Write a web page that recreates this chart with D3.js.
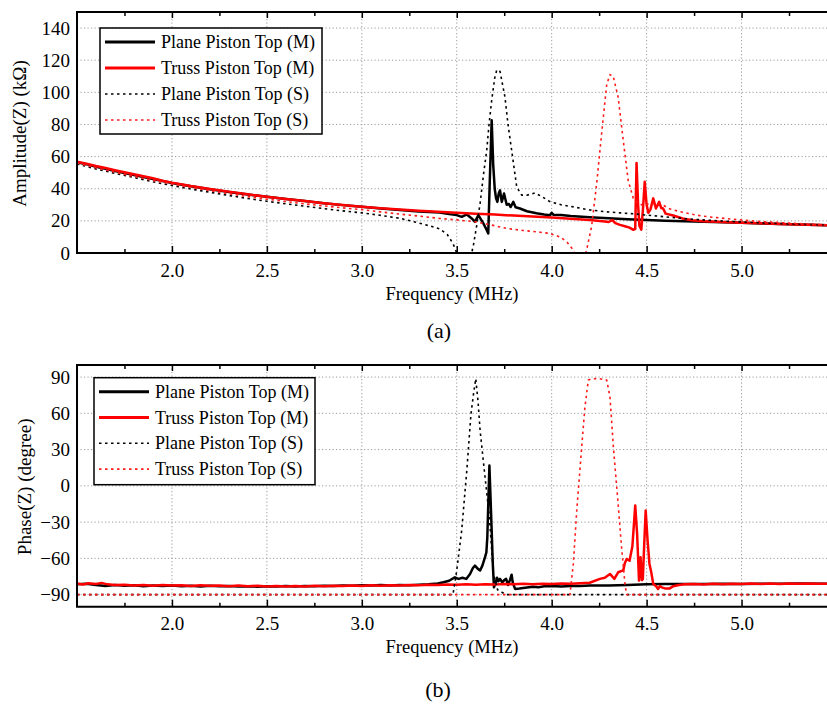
<!DOCTYPE html>
<html>
<head>
<meta charset="utf-8">
<script src="https://cdn.jsdelivr.net/npm/d3@7"></script>
<style>
  html, body { margin: 0; padding: 0; background: #fff; }
  svg { display: block; }
  text { font-family: "Liberation Serif", "Times New Roman", serif; fill: #000; }
</style>
</head>
<body>
<svg id="chart" width="827" height="707"></svg>
<script>
// ---------------- DATA ----------------
const seriesNames = ["Plane Piston Top (M)", "Truss Piston Top (M)", "Plane Piston Top (S)", "Truss Piston Top (S)"];
const freqTicks = [2.0, 2.5, 3.0, 3.5, 4.0, 4.5, 5.0];
const freqMinorTicks = [1.75, 2.25, 2.75, 3.25, 3.75, 4.25, 4.75, 5.25];
const ampTicks = [0, 20, 40, 60, 80, 100, 120, 140];
const phaseTicks = [-90, -60, -30, 0, 30, 60, 90];

// Amplitude |Z| (kOhm) vs frequency (MHz)
const ampPlaneM = [[1.5,56.5],[1.55,55.3],[1.6,53.6],[1.65,52.4],[1.7,51],[1.75,49.8],[1.8,48.5],[1.85,47.3],[1.9,46],[1.95,44.8],[2.0,43.6],[2.1,41.5],[2.2,39.7],[2.3,38],[2.4,36.4],[2.5,35],[2.6,33.6],[2.7,32.3],[2.8,31],[2.9,29.8],[3.0,28.8],[3.1,27.7],[3.2,26.7],[3.3,25.9],[3.41,25.2],[3.46,24.2],[3.5,23.6],[3.526,22.5],[3.553,24],[3.579,21.5],[3.596,19.4],[3.614,23.6],[3.64,18.4],[3.655,15],[3.666,12.2],[3.674,45],[3.684,82.6],[3.692,55],[3.70,40],[3.707,34],[3.714,31.8],[3.721,37],[3.728,39],[3.737,31.8],[3.749,37],[3.763,30],[3.775,30.5],[3.784,28.6],[3.798,31.8],[3.81,28.5],[3.833,27.7],[3.87,26],[3.92,24.8],[3.96,24],[3.99,23.5],[4.0,25],[4.01,23.8],[4.05,23.6],[4.1,23],[4.2,22.3],[4.3,21.7],[4.4,21],[4.5,20.5],[4.6,20.1],[4.7,19.8],[4.8,19.5],[4.9,19.1],[5.0,18.8],[5.1,18.4],[5.2,18.1],[5.3,17.8],[5.45,17.3]];
const ampTrussM = [[1.5,56.8],[1.55,55.6],[1.6,54.1],[1.65,52.9],[1.7,51.5],[1.75,50.2],[1.8,49],[1.85,47.8],[1.9,46.5],[1.95,45],[2.0,43.8],[2.1,41.7],[2.2,39.9],[2.3,38.2],[2.4,36.5],[2.5,35],[2.6,33.6],[2.7,32.3],[2.8,31],[2.9,29.9],[3.0,28.8],[3.1,27.9],[3.2,27],[3.3,26.3],[3.4,25.7],[3.5,25.1],[3.6,24.5],[3.7,23.9],[3.8,23.3],[3.9,22.7],[4.0,22.1],[4.1,21.3],[4.2,20.5],[4.28,19.6],[4.3,19.3],[4.32,20.5],[4.335,18.6],[4.36,17.5],[4.39,16.5],[4.41,15.8],[4.43,14.4],[4.44,15],[4.447,56],[4.455,30],[4.462,17],[4.472,14.5],[4.48,26],[4.49,44.3],[4.5,30],[4.509,25],[4.52,27],[4.535,34],[4.549,27.7],[4.566,31.8],[4.577,28],[4.587,27.7],[4.6,24.5],[4.64,23.3],[4.69,21.5],[4.74,20.4],[4.8,19.8],[4.9,19.3],[5.0,18.9],[5.1,18.5],[5.2,18.1],[5.3,17.8],[5.45,17.3]];
const ampPlaneS = [[1.5,55.5],[1.6,52.3],[1.7,49.6],[1.8,47],[1.9,44.3],[2.0,42],[2.1,39.8],[2.2,37.8],[2.3,35.8],[2.4,33.9],[2.5,32.2],[2.6,30.6],[2.7,29.1],[2.8,27.6],[2.9,26.2],[3.0,25],[3.1,23.4],[3.2,21.6],[3.27,19.6],[3.36,16.8],[3.41,15],[3.45,11.5],[3.48,6],[3.5,0],[3.52,-8],[3.55,-10],[3.575,-2],[3.588,5],[3.605,17],[3.623,30.8],[3.64,48],[3.658,64],[3.67,80],[3.684,95],[3.70,109],[3.711,114],[3.728,113],[3.754,97],[3.77,80],[3.789,64],[3.816,41],[3.842,36],[3.87,36],[3.912,37.4],[3.95,35],[3.99,32],[4.05,30],[4.114,28.7],[4.2,26.8],[4.29,25.6],[4.36,25],[4.43,24.4],[4.5,23.6],[4.6,22.5],[4.7,21.4],[4.8,20.6],[4.9,19.9],[5.0,19.3],[5.1,18.8],[5.2,18.3],[5.3,17.9],[5.45,17.4]];
const ampTrussS = [[1.5,56],[1.6,53],[1.7,50.3],[1.8,47.7],[1.9,45.2],[2.0,43],[2.1,40.8],[2.2,38.8],[2.3,36.9],[2.4,35.1],[2.5,33.5],[2.6,32],[2.7,30.6],[2.8,29.3],[2.9,28.1],[3.0,27],[3.1,25.6],[3.2,24.2],[3.3,23],[3.41,21.5],[3.5,20.6],[3.6,19.4],[3.68,17.5],[3.763,15.3],[3.85,14],[3.92,13.2],[3.99,12.2],[4.044,10],[4.079,7],[4.114,1.9],[4.14,-8],[4.165,-6],[4.184,1.9],[4.21,16.3],[4.237,43.3],[4.263,74.3],[4.29,105],[4.307,111],[4.324,110],[4.35,97],[4.377,70],[4.403,45],[4.43,34],[4.45,31.5],[4.482,29.5],[4.51,30.5],[4.553,30.8],[4.587,29.8],[4.62,27.5],[4.69,25.3],[4.79,23],[4.87,22],[5.0,20.5],[5.1,19.6],[5.22,18.8],[5.35,18],[5.45,17.5]];

// Phase(Z) (degree) vs frequency (MHz)
const phasePlaneM = [[1.5,-81.5],[1.55,-81],[1.6,-82],[1.65,-82.8],[1.7,-82],[1.75,-82.6],[1.8,-82.2],[1.85,-83],[1.9,-82.4],[1.95,-82.8],[2.0,-82.5],[2.05,-83],[2.1,-82.6],[2.15,-83.2],[2.2,-82.7],[2.25,-83.1],[2.3,-82.8],[2.35,-83.3],[2.4,-83],[2.45,-83.4],[2.5,-83.1],[2.55,-83.3],[2.6,-82.9],[2.65,-83.2],[2.7,-82.8],[2.75,-83],[2.8,-82.6],[2.85,-82.9],[2.9,-82.4],[2.95,-82.7],[3.0,-82.2],[3.05,-82.5],[3.1,-82.1],[3.15,-82.4],[3.2,-82],[3.25,-82.2],[3.3,-81.8],[3.35,-81.5],[3.4,-80.8],[3.43,-79.8],[3.46,-78.5],[3.49,-75.6],[3.5,-76.5],[3.51,-77],[3.53,-76],[3.55,-77],[3.57,-73],[3.585,-68],[3.596,-66],[3.61,-68.5],[3.623,-70],[3.635,-66],[3.649,-59],[3.656,-55],[3.661,-42.5],[3.667,-10],[3.672,16.8],[3.678,-10],[3.684,-37],[3.69,-65],[3.696,-84],[3.705,-80],[3.712,-76],[3.719,-79],[3.728,-77],[3.74,-80],[3.75,-78],[3.76,-77],[3.77,-82],[3.78,-78],[3.789,-73.5],[3.795,-80],[3.807,-85.3],[3.83,-85],[3.86,-84.3],[3.9,-83.5],[3.93,-84],[3.96,-83],[4.0,-82.8],[4.05,-83.3],[4.1,-82.8],[4.15,-82.8],[4.2,-82.5],[4.3,-82.4],[4.4,-82],[4.5,-81.5],[4.6,-81.3],[4.7,-81.2],[4.8,-81.2],[4.9,-81],[5.0,-81.2],[5.1,-81],[5.2,-81.1],[5.3,-80.9],[5.45,-81]];
const phaseTrussM = [[1.5,-80.8],[1.53,-81.6],[1.56,-80.6],[1.6,-81.2],[1.63,-80.3],[1.66,-81.5],[1.7,-82],[1.75,-81.8],[1.8,-82.4],[1.85,-82],[1.9,-82.6],[1.95,-82.1],[2.0,-82.5],[2.05,-82.2],[2.1,-82.8],[2.15,-82.3],[2.2,-82.7],[2.25,-82.4],[2.3,-83],[2.35,-82.5],[2.4,-83],[2.45,-82.7],[2.5,-83.2],[2.55,-82.8],[2.6,-83.3],[2.65,-82.9],[2.7,-83.2],[2.75,-82.7],[2.8,-83],[2.85,-82.6],[2.9,-82.9],[2.95,-82.4],[3.0,-82.8],[3.05,-82.3],[3.1,-82.6],[3.15,-82.2],[3.2,-82.5],[3.25,-82.1],[3.3,-82.3],[3.35,-81.9],[3.4,-82.1],[3.45,-81.7],[3.5,-81.9],[3.55,-81.5],[3.6,-81.8],[3.65,-81.4],[3.7,-81.6],[3.75,-81.2],[3.8,-81.5],[3.85,-81.1],[3.9,-81.4],[3.95,-81],[4.0,-81.3],[4.05,-80.9],[4.1,-81.1],[4.15,-80.6],[4.2,-80.2],[4.254,-77],[4.28,-76],[4.307,-72.9],[4.33,-77],[4.35,-71.5],[4.377,-70],[4.385,-64],[4.395,-60.5],[4.41,-62],[4.425,-50],[4.44,-16.3],[4.45,-40],[4.46,-78.4],[4.468,-59],[4.475,-78],[4.48,-77],[4.487,-50],[4.495,-20.4],[4.505,-45],[4.515,-64.6],[4.525,-72],[4.535,-81.2],[4.55,-83],[4.56,-85.3],[4.57,-83],[4.58,-84],[4.6,-85],[4.62,-85],[4.64,-83],[4.67,-82],[4.7,-81.5],[4.75,-81.2],[4.8,-81.6],[4.85,-81],[4.9,-81.4],[4.95,-81],[5.0,-81.3],[5.05,-80.9],[5.1,-81.2],[5.15,-80.8],[5.2,-81.2],[5.25,-80.9],[5.3,-81.1],[5.35,-80.8],[5.4,-81.1],[5.45,-81]];
const phasePlaneS = [[1.5,-90],[3.48,-90],[3.5,-70],[3.526,-37],[3.553,12.7],[3.575,59.6],[3.59,78],[3.60,88.6],[3.612,70],[3.623,45.8],[3.649,7.2],[3.672,-26],[3.693,-72.9],[3.715,-86],[3.737,-88],[3.76,-90],[5.45,-90]];
const phaseTrussS = [[1.5,-90],[4.096,-90],[4.114,-64.6],[4.132,-20.4],[4.158,32],[4.175,65],[4.193,87.5],[4.21,88.6],[4.25,88.8],[4.29,87.5],[4.307,73.5],[4.325,32],[4.35,-15],[4.368,-50.8],[4.386,-81.2],[4.395,-90],[5.45,-90]];

// ---------------- STYLES / LAYOUT ----------------
const styles = [
  { color: "#000000", width: 2.5, dash: null },
  { color: "#ff0000", width: 2.5, dash: null },
  { color: "#000000", width: 1.6, dash: "2.5,3.5" },
  { color: "#ff1a1a", width: 1.6, dash: "2.5,3.5" }
];
const FONT = '"Liberation Serif", "Times New Roman", serif';
const svg = d3.select("#chart");

function drawPanel(cfg) {
  const { top, bottom, left, right, xDomain, yDomain, yTicks, series, yTitle, yTitleX, panelLabel, legend, tickPad, titleOffset } = cfg;
  const x = d3.scaleLinear().domain(xDomain).range([left, right]);
  const y = d3.scaleLinear().domain(yDomain).range([bottom, top]);
  const g = svg.append("g");
  const clipId = "clip" + Math.round(top);
  g.append("clipPath").attr("id", clipId).append("rect")
    .attr("x", left).attr("y", top).attr("width", right - left).attr("height", bottom - top);

  // grid
  const grid = g.append("g").attr("stroke", "#9a9a9a").attr("stroke-width", 1).attr("stroke-dasharray", "1.2,2.3");
  grid.selectAll("line.gx").data(freqTicks).join("line")
    .attr("x1", d => x(d)).attr("x2", d => x(d)).attr("y1", top).attr("y2", bottom);
  grid.selectAll("line.gy").data(yTicks.filter(v => y(v) < bottom - 1)).join("line")
    .attr("x1", left).attr("x2", right).attr("y1", d => y(d)).attr("y2", d => y(d));

  // series lines
  const line = d3.line().x(d => x(d[0])).y(d => y(d[1]));
  const lg = g.append("g").attr("clip-path", `url(#${clipId})`);
  series.forEach((s, i) => {
    lg.append("path").datum(s).attr("d", line).attr("fill", "none")
      .attr("stroke", styles[i].color).attr("stroke-width", styles[i].width)
      .attr("stroke-linejoin", "round")
      .attr("stroke-dasharray", styles[i].dash);
  });

  // bottom axis
  const xAxis = d3.axisBottom(x).tickValues(freqTicks).tickFormat(d3.format(".1f")).tickSizeInner(-7).tickSizeOuter(0).tickPadding(tickPad);
  const ax = g.append("g").attr("transform", `translate(0,${bottom})`).call(xAxis);
  ax.select(".domain").remove();
  ax.selectAll("line").attr("stroke", "#000").attr("stroke-width", 1.5);
  ax.selectAll("text").attr("font-family", FONT).attr("font-size", 19).attr("fill", "#000");
  const axm = g.append("g").attr("transform", `translate(0,${bottom})`)
    .call(d3.axisBottom(x).tickValues(freqMinorTicks).tickFormat("").tickSizeInner(-4).tickSizeOuter(0));
  axm.select(".domain").remove();
  axm.selectAll("line").attr("stroke", "#000").attr("stroke-width", 1.5);
  // top mirror ticks
  const at = g.append("g").attr("transform", `translate(0,${top})`)
    .call(d3.axisTop(x).tickValues(freqTicks).tickFormat("").tickSizeInner(-6).tickSizeOuter(0));
  at.select(".domain").remove();
  at.selectAll("line").attr("stroke", "#000").attr("stroke-width", 1.5);
  const atm = g.append("g").attr("transform", `translate(0,${top})`)
    .call(d3.axisTop(x).tickValues(freqMinorTicks).tickFormat("").tickSizeInner(-4).tickSizeOuter(0));
  atm.select(".domain").remove();
  atm.selectAll("line").attr("stroke", "#000").attr("stroke-width", 1.5);

  // left axis labels
  const yAxis = d3.axisLeft(y).tickValues(yTicks).tickSizeInner(0).tickSizeOuter(0).tickPadding(7);
  const ay = g.append("g").attr("transform", `translate(${left},0)`).call(yAxis);
  ay.select(".domain").remove();
  ay.selectAll("text").attr("font-family", FONT).attr("font-size", 19).attr("fill", "#000");

  // frame
  g.append("path").attr("d", `M${right},${top}H${left}V${bottom}H${right}`)
    .attr("fill", "none").attr("stroke", "#000").attr("stroke-width", 2);

  // titles
  g.append("text").attr("x", (left + right) / 2).attr("y", bottom + titleOffset)
    .attr("text-anchor", "middle").attr("font-size", 18.5).text("Frequency (MHz)");
  g.append("text").attr("transform", `translate(${yTitleX},${(top + bottom) / 2 + 1}) rotate(-90)`)
    .attr("text-anchor", "middle").attr("font-size", 19).text(yTitle);
  g.append("text").attr("x", panelLabel.x).attr("y", panelLabel.y)
    .attr("text-anchor", "middle").attr("font-size", 22).text(panelLabel.text);

  // legend
  const L = legend;
  const leg = g.append("g");
  leg.append("rect").attr("x", L.x).attr("y", L.y).attr("width", L.w).attr("height", L.h)
    .attr("fill", "#fff").attr("stroke", "#000").attr("stroke-width", 1.5);
  seriesNames.forEach((name, i) => {
    const cy = L.y + L.first + i * L.step;
    leg.append("line").attr("x1", L.x + 5).attr("x2", L.x + 55).attr("y1", cy).attr("y2", cy)
      .attr("stroke", styles[i].color).attr("stroke-width", styles[i].width === 2.5 ? 3 : 1.6)
      .attr("stroke-dasharray", styles[i].dash);
    leg.append("text").attr("x", L.x + 61).attr("y", cy + 6).attr("font-size", 18).text(name);
  });
}

drawPanel({
  top: 12, bottom: 253, left: 77, right: 827,
  xDomain: [1.5, 5.45], yDomain: [0, 150], yTicks: ampTicks,
  series: [ampPlaneM, ampTrussM, ampPlaneS, ampTrussS],
  yTitle: "Amplitude(Z) (kΩ)", yTitleX: 26,
  panelLabel: { text: "(a)", x: 439, y: 338 },
  legend: { x: 100, y: 28, w: 222, h: 106, first: 14, step: 26 },
  tickPad: 11, titleOffset: 47
});

drawPanel({
  top: 365, bottom: 606.7, left: 77, right: 827,
  xDomain: [1.5, 5.45], yDomain: [-100, 100], yTicks: phaseTicks,
  series: [phasePlaneM, phaseTrussM, phasePlaneS, phaseTrussS],
  yTitle: "Phase(Z) (degree)", yTitleX: 31,
  panelLabel: { text: "(b)", x: 438, y: 697 },
  legend: { x: 94, y: 377.7, w: 221, h: 107, first: 14, step: 25.8 },
  tickPad: 10, titleOffset: 46
});
</script>
</body>
</html>
